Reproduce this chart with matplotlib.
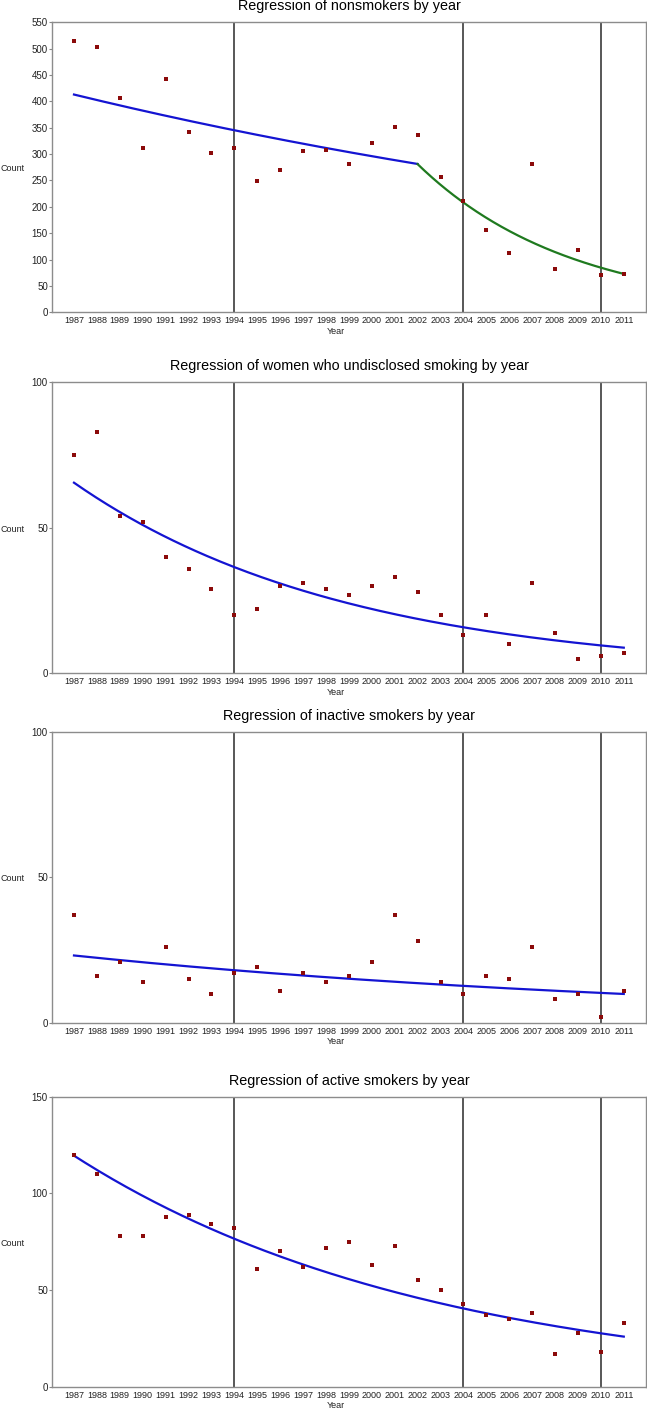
import matplotlib
matplotlib.use('Agg')
import matplotlib.pyplot as plt
import numpy as np

# data
years = list(range(1987, 2012))

nonsmokers = [514, 503, 407, 312, 443, 342, 302, 311, 249, 269, 305, 307, 281,
              322, 351, 336, 257, 211, 157, 113, 282, 82, 118, 70, 73]
undisclosed = [75, 83, 54, 52, 40, 36, 29, 20, 22, 30, 31, 29, 27,
               30, 33, 28, 20, 13, 20, 10, 31, 14, 5, 6, 7]
inactive = [37, 16, 21, 14, 26, 15, 10, 17, 19, 11, 17, 14, 16,
            21, 37, 28, 14, 10, 16, 15, 26, 8, 10, 2, 11]
active = [120, 110, 78, 78, 88, 89, 84, 82, 61, 70, 62, 72, 75,
          63, 73, 55, 50, 43, 37, 35, 38, 17, 28, 18, 33]

# exponential fit segments: (start year, end year, value at start, rate, colour)
nonsmokers_fit = [(1987, 2002, 413, -0.0256, '#1414d2'),
                  (2002, 2011, 281, -0.150, '#1f7a1f')]
undisclosed_fit = [(1987, 2011, 65.5, -0.0836, '#1414d2')]
inactive_fit = [(1987, 2011, 23.1, -0.0354, '#1414d2')]
active_fit = [(1987, 2011, 119.5, -0.0637, '#1414d2')]

titles = ['Regression of nonsmokers by year',
          'Regression of women who undisclosed smoking by year',
          'Regression of inactive smokers by year',
          'Regression of active smokers by year']
yticks = [list(range(0, 551, 50)), [0, 50, 100], [0, 50, 100], [0, 50, 100, 150]]
break_years = [1994, 2004, 2010]

panels = [(nonsmokers, nonsmokers_fit), (undisclosed, undisclosed_fit),
          (inactive, inactive_fit), (active, active_fit)]

plt.rcParams['font.family'] = ['Liberation Sans Narrow', 'Liberation Sans', 'DejaVu Sans']

W, H = 647, 1410
fig = plt.figure(figsize=(W / 100, H / 100), dpi=100)

# axes boxes in pixels: (top, bottom)
boxes = [(22.3, 312.3), (382.3, 673.3), (731.7, 1022.7), (1096.7, 1386.7)]
left, right = 52, 646

for (top, bottom), (counts, fits), title, yt in zip(boxes, panels, titles, yticks):
    ax = fig.add_axes([left / W, 1 - bottom / H, (right - left) / W, (bottom - top) / H])

    for yr in break_years:
        ax.axvline(yr, color='#4a4a4a', lw=1.3, zorder=1)

    for t0, t1, a, k, c in fits:
        t = np.linspace(t0, t1, 200)
        ax.plot(t, a * np.exp(k * (t - t0)), color=c, lw=1.6, zorder=2)

    ax.plot(years, counts, 's', color='#8b0a0a', ms=2.6, mew=0, zorder=3)

    ax.set_xlim(1986.04, 2011.97)
    ax.set_ylim(yt[0], yt[-1])
    ax.set_xticks(years)
    ax.set_xticklabels([str(y) for y in years], fontsize=6.5, color='#222222')
    ax.set_yticks(yt)
    ax.set_yticklabels([str(v) for v in yt], fontsize=7, color='#222222')
    ax.tick_params(axis='x', length=0, pad=3)
    ax.tick_params(axis='y', length=2, pad=1, color='#888888')
    for s in ax.spines.values():
        s.set_color('#8c8c8c')
        s.set_linewidth(1.0)

    ax.set_title(title, fontsize=10.4, family='Liberation Sans', pad=8.5)
    ax.set_xlabel('Year', fontsize=6.5, color='#222222')
    ax.xaxis.set_label_coords(0.478, -0.05)
    ax.set_ylabel('Count', fontsize=6.5, rotation=0, ha='left', va='center', color='#222222')
    ax.yaxis.set_label_coords(-0.0864, 0.495)

fig.savefig('out.png', dpi=100)
